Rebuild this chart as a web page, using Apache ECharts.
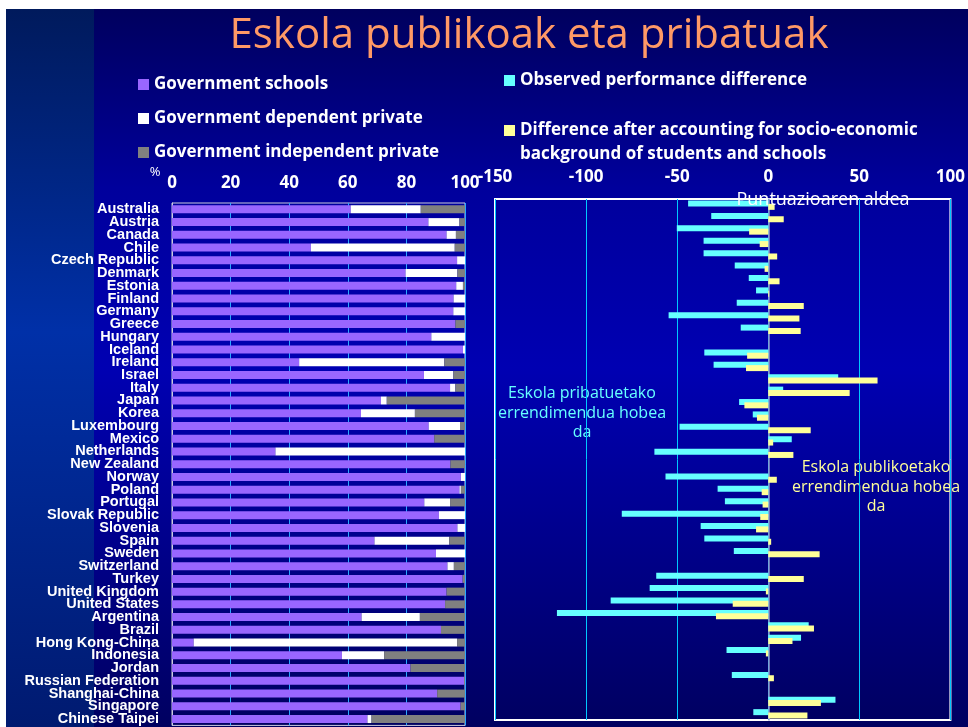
<!DOCTYPE html>
<html>
<head>
<meta charset="utf-8">
<script src="https://cdn.jsdelivr.net/npm/echarts@6/dist/echarts.min.js"></script>
<style>
  html, body { margin: 0; padding: 0; background: #fff; }
  #main { width: 968px; height: 727px; }
</style>
</head>
<body>
<div id="main"></div>
<script>
// countries, top to bottom
const countries = [
  "Australia", "Austria", "Canada", "Chile", "Czech Republic", "Denmark", "Estonia",
  "Finland", "Germany", "Greece", "Hungary", "Iceland", "Ireland", "Israel", "Italy",
  "Japan", "Korea", "Luxembourg", "Mexico", "Netherlands", "New Zealand", "Norway",
  "Poland", "Portugal", "Slovak Republic", "Slovenia", "Spain", "Sweden", "Switzerland",
  "Turkey", "United Kingdom", "United States", "Argentina", "Brazil", "Hong Kong-China",
  "Indonesia", "Jordan", "Russian Federation", "Shanghai-China", "Singapore", "Chinese Taipei"
];
// % of students per school type
const govSchools = [61.0, 87.5, 93.7, 47.4, 97.3, 79.7, 97.0, 96.1, 96.0, 96.7, 88.5, 99.3, 43.4, 86.0, 94.9,
  71.3, 64.5, 87.6, 89.5, 35.3, 95.0, 98.6, 98.1, 86.1, 91.1, 97.4, 69.1, 90.1, 94.0,
  99.2, 93.7, 93.2, 64.7, 91.8, 7.4, 58.0, 81.4, 99.7, 90.5, 98.5, 66.7];
const govDependent = [23.9, 10.6, 3.2, 49.1, 2.7, 17.7, 2.3, 3.9, 4.0, 0, 11.5, 0.7, 49.5, 10.0, 1.8,
  2.0, 18.4, 10.7, 0, 64.7, 0, 1.4, 0.5, 8.8, 8.9, 2.6, 25.5, 9.9, 2.2,
  0, 0, 0, 19.9, 0, 89.9, 14.4, 0, 0, 0, 0, 1.4];
const govIndependent = [15.1, 1.9, 3.1, 3.5, 0, 2.6, 0.7, 0, 0, 3.3, 0, 0, 7.1, 4.0, 3.3,
  26.7, 17.1, 1.7, 10.5, 0, 5.0, 0, 1.4, 5.1, 0, 0, 5.4, 0, 3.8,
  0.8, 6.3, 6.8, 15.4, 8.2, 2.7, 27.6, 18.6, 0.3, 9.5, 1.5, 31.9];

// right chart has one more row (its label falls off the slide)
const diffRows = countries.concat([""]);
const observedDiff = [-44.0, -31.3, -50.2, -35.5, -35.5, -18.4, -10.7, -6.7, -17.3, -54.7, -15.1, null, -35.1, -30.0,
  38.4, 8.2, -16.0, -8.5, -48.7, 12.9, -62.5, null, -56.4, -27.8, -23.8, -80.4, -37.1, -35.1,
  -18.9, null, -61.5, -65.1, -86.5, -116.0, 22.2, 18.0, -22.9, null, -20.0, null, 36.9, -8.2];
const adjustedDiff = [3.5, 8.5, -10.5, -4.7, 4.9, -2.0, 6.2, 0.5, 19.5, 17.1, 17.8, null, -11.6, -12.2,
  60.0, 44.7, -13.1, -6.2, 23.3, 2.7, 13.8, null, 4.7, -3.6, -3.1, -4.4, -6.7, 1.6,
  28.2, null, 19.5, -1.3, -19.5, -28.7, 25.1, 13.3, -1.3, null, 3.1, null, 28.9, 21.5];

const comic = "'Open Sans', sans-serif";
const adjName = "Difference after accounting for socio-economic";
const legendText = { color: "#fff", fontWeight: "bold", fontSize: 17, lineHeight: 17, fontFamily: comic };

const chart = echarts.init(document.getElementById("main"));
chart.setOption({
  animation: false,
  backgroundColor: "#fff",
  graphic: [
    {
      type: "rect", z: -100, shape: { x: 6, y: 9, width: 962, height: 718 },
      style: { fill: new echarts.graphic.LinearGradient(0, 0, 0, 1, [
        { offset: 0, color: "#00005e" }, { offset: 0.25, color: "#00009c" },
        { offset: 0.5, color: "#0000b2" }, { offset: 0.75, color: "#00008a" },
        { offset: 1, color: "#000060" }]) }
    },
    {
      type: "rect", z: -99, shape: { x: 6, y: 9, width: 88, height: 718 },
      style: { fill: new echarts.graphic.LinearGradient(0, 0, 0, 1, [
        { offset: 0, color: "#001a5c" }, { offset: 0.45, color: "#0030a8" },
        { offset: 1, color: "#001a70" }]) }
    },
    { type: "text", x: 529, y: 36, style: { text: "Eskola publikoak eta pribatuak", fill: "#ff9966",
      font: "42px " + comic, align: "center", verticalAlign: "middle" } },
    { type: "text", x: 155, y: 172, style: { text: "%", fill: "#fff", font: "13px " + comic,
      align: "center", verticalAlign: "middle" } },
    { type: "text", x: 520, y: 154, style: { text: "background of students and schools", fill: "#fff",
      font: "bold 17px " + comic, align: "left", verticalAlign: "middle" } },
    { type: "text", x: 823, y: 200, z: 10, style: { text: "Puntuazioaren aldea", fill: "#fff",
      font: "18px " + comic, align: "center", verticalAlign: "middle" } },
    { type: "text", x: 582, y: 413, style: { text: "Eskola pribatuetako\nerrendimendua hobea\nda",
      fill: "#66ffff", font: "16px " + comic, lineHeight: 19.5, align: "center", verticalAlign: "middle" } },
    { type: "text", x: 876, y: 487, style: { text: "Eskola publikoetako\nerrendimendua hobea\nda",
      fill: "#ffff99", font: "16px " + comic, lineHeight: 19.5, align: "center", verticalAlign: "middle" } }
  ],
  legend: [
    {
      data: ["Government schools", "Government dependent private", "Government independent private"],
      orient: "vertical", left: 133, top: 71, itemWidth: 11, itemHeight: 11, itemGap: 17, icon: "rect",
      textStyle: legendText
    },
    {
      data: ["Observed performance difference"], left: 499, top: 67, itemWidth: 11, itemHeight: 11,
      icon: "rect", textStyle: legendText
    },
    {
      data: [adjName], left: 499, top: 117, itemWidth: 11, itemHeight: 11, icon: "rect", textStyle: legendText
    }
  ],
  grid: [
    { left: 172, top: 203, width: 293, height: 526, show: true, borderColor: "#ccccdd", borderWidth: 1 },
    { left: 495, top: 199, width: 458, height: 521, show: true, borderColor: "#ffffff", borderWidth: 2 }
  ],
  xAxis: [
    {
      gridIndex: 0, type: "value", position: "top", min: 0, max: 100, interval: 20,
      axisLine: { show: false }, axisTick: { show: false },
      axisLabel: { color: "#fff", fontWeight: "bold", fontSize: 17, fontFamily: comic, margin: 11 },
      splitLine: { lineStyle: { color: "#2aa8ff", width: 1 } }
    },
    {
      gridIndex: 1, type: "value", position: "top", min: -150, max: 100, interval: 50,
      axisLine: { show: false }, axisTick: { show: false },
      axisLabel: { color: "#fff", fontWeight: "bold", fontSize: 17, fontFamily: comic, margin: 13 },
      splitLine: { lineStyle: { color: "#00c8ff", width: 1 } }
    }
  ],
  yAxis: [
    {
      gridIndex: 0, type: "category", data: countries, inverse: true,
      axisLine: { lineStyle: { color: "#ccccdd" } }, axisTick: { show: false },
      axisLabel: { interval: 0, color: "#fff", fontWeight: "bold", fontSize: 14.5, lineHeight: 13,
        padding: [3, 0, 0, 0], fontFamily: "'Liberation Sans', Arial, sans-serif", margin: 13 }
    },
    {
      gridIndex: 1, type: "category", data: diffRows, inverse: true,
      axisLine: { lineStyle: { color: "#9999cc", width: 1.5 } }, axisTick: { show: false },
      axisLabel: { show: false }
    }
  ],
  series: [
    { name: "Government schools", type: "bar", stack: "share", xAxisIndex: 0, yAxisIndex: 0,
      barWidth: 8, itemStyle: { color: "#9966ff" }, data: govSchools },
    { name: "Government dependent private", type: "bar", stack: "share", xAxisIndex: 0, yAxisIndex: 0,
      barWidth: 8, itemStyle: { color: "#ffffff" }, data: govDependent },
    { name: "Government independent private", type: "bar", stack: "share", xAxisIndex: 0, yAxisIndex: 0,
      barWidth: 8, itemStyle: { color: "#808080" }, data: govIndependent },
    { name: "Observed performance difference", type: "bar", xAxisIndex: 1, yAxisIndex: 1,
      barWidth: 6, barGap: "-45%", itemStyle: { color: "#66ffff" }, data: observedDiff },
    { name: adjName, type: "bar", xAxisIndex: 1, yAxisIndex: 1,
      barWidth: 6, barGap: "-45%", itemStyle: { color: "#ffff99" }, data: adjustedDiff }
  ]
});
</script>
</body>
</html>
